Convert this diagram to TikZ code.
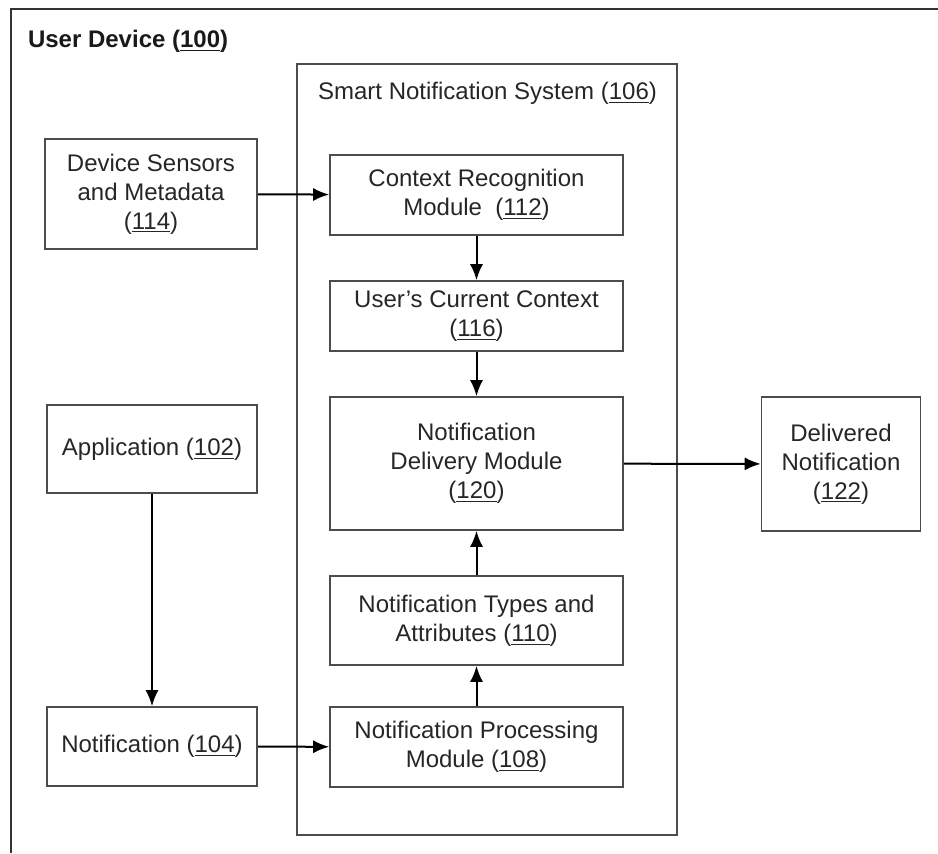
\documentclass[tikz,border=0pt]{standalone}
\usepackage{fontspec}
\setmainfont{Liberation Sans}
\usepackage{tikz}
\usetikzlibrary{arrows.meta,positioning}
\pgfkeys{tikz/blk/.style={draw=black!70,line width=0.8pt,align=center,inner sep=0pt,text=black!85,font=\fontsize{12}{14.4}\selectfont}}
\pgfkeys{tikz/arr/.style={-{Latex[length=8pt,width=6.5pt]},line width=1pt}}

\begin{document}
\begin{tikzpicture}[x=0.5pt,y=-0.5pt]
  \useasboundingbox (0,0) rectangle (938,853);
  \draw[line width=1.3pt,black!80] (11,853) -- (11,9) -- (938,9);
  \node[anchor=west,text=black!90,font=\bfseries\fontsize{12}{14}\selectfont] (n100) at (21,41) {User Device (\underline{100})};

  \node[blk,minimum width=190pt,minimum height=385.5pt] (n106) at (487,449.5) {};
  \node[text=black!85,font=\fontsize{12}{14}\selectfont] (n106t) at (487.5,93) {Smart Notification System (\underline{106})};

  \node[blk,minimum width=106pt,minimum height=55pt] (n114) at (151,194) {Device Sensors\\and Metadata\\(\underline{114})};
  \node[blk,minimum width=146.5pt,minimum height=40pt] (n112) at (476.5,195) {Context Recognition\\Module\ \ (\underline{112})};
  \node[blk,minimum width=146.5pt,minimum height=35pt] (n116) at (476.5,316) {User’s Current Context\\(\underline{116})};
  \node[blk,minimum width=146.5pt,minimum height=66.5pt] (n120) at (476.5,463.5) {Notification\\Delivery Module\\(\underline{120})};
  \node[blk,minimum width=79.5pt,minimum height=67pt] (n122) at (841,464) {Delivered\\Notification\\(\underline{122})};
  \node[blk,minimum width=105pt,minimum height=44pt] (n102) at (152,449) {Application (\underline{102})};
  \node[blk,minimum width=146.5pt,minimum height=44.5pt] (n110) at (476.5,620.5) {Notification Types and\\Attributes (\underline{110})};
  \node[blk,minimum width=105pt,minimum height=39.5pt] (n104) at (152,746.5) {Notification (\underline{104})};
  \node[blk,minimum width=146.5pt,minimum height=40pt] (n108) at (476.5,747) {Notification Processing\\Module (\underline{108})};

  \draw[arr] (n114) -- (n112);
  \draw[arr] (n112) -- (n116);
  \draw[arr] (n116) -- (n120);
  \draw[arr] (n120) -- (n122);
  \draw[arr] (n102) -- (n104);
  \draw[arr] (n104) -- (n108);
  \draw[arr] (n108) -- (n110);
  \draw[arr] (n110) -- (n120);
\end{tikzpicture}
\end{document}
